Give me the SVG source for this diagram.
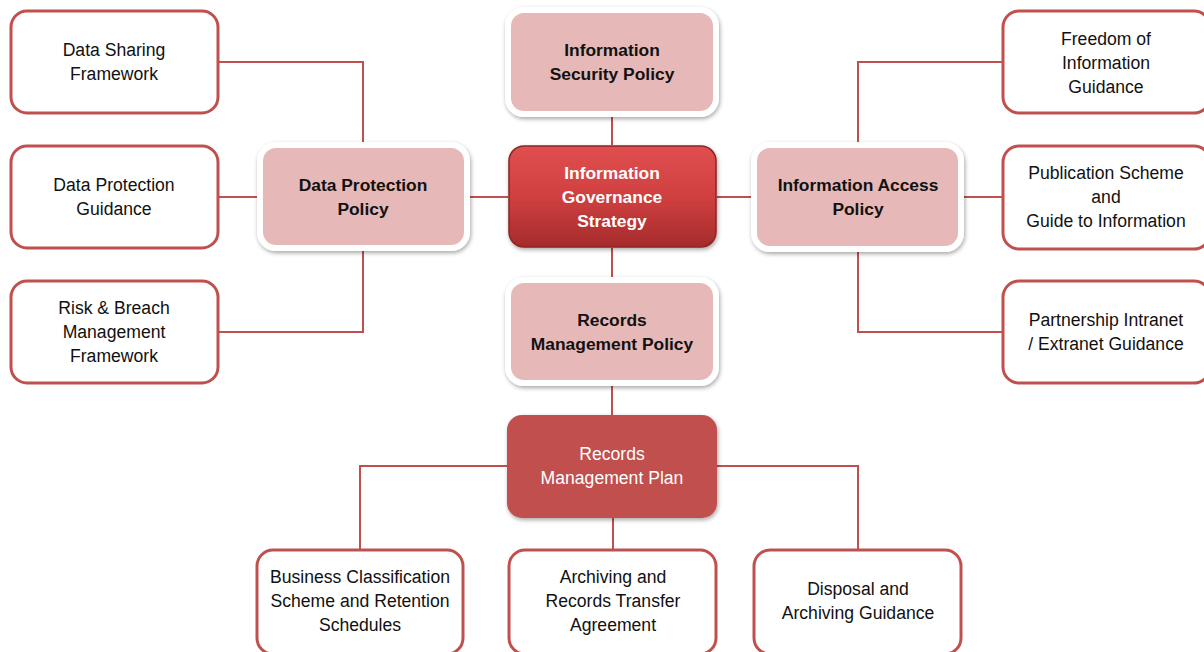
<svg xmlns="http://www.w3.org/2000/svg" width="1204" height="652" viewBox="0 0 1204 652">
  <defs>
    <linearGradient id="stratFill" x1="0" y1="0" x2="0" y2="1">
      <stop offset="0" stop-color="#e04f4f"/>
      <stop offset="0.5" stop-color="#d04040"/>
      <stop offset="1" stop-color="#a52b2b"/>
    </linearGradient>
    <filter id="shadow" x="-10%" y="-10%" width="125%" height="130%">
      <feDropShadow dx="1" dy="2" stdDeviation="2" flood-color="#000" flood-opacity="0.35"/>
    </filter>
  </defs>
  <style>
    .link { fill: none; stroke: #c0504d; stroke-width: 2; }
    .doc { fill: #ffffff; stroke: #c0504d; stroke-width: 3; }
    .policy { fill: #e6b9b8; stroke: #ffffff; stroke-width: 6; filter: url(#shadow); }
    .strategy { fill: url(#stratFill); stroke: #8f2424; stroke-width: 1.5; filter: url(#shadow); }
    .plan { fill: #c0504d; stroke: none; filter: url(#shadow); }
    text { font-family: "Liberation Sans", Arial, sans-serif; font-size: 17.6px; text-anchor: middle; fill: #111111; }
    .bold { font-weight: bold; font-size: 17.4px; }
    .light { fill: #ffffff; }
  </style>
  <rect width="1204" height="652" fill="#ffffff"/>

  <g id="connectors">
    <path class="link" d="M219,62 H363 V142"/>
    <path class="link" d="M219,197 H257"/>
    <path class="link" d="M219,332 H363 V251"/>
    <path class="link" d="M470,197 H508"/>
    <path class="link" d="M717,197 H751"/>
    <path class="link" d="M964,197 H1002"/>
    <path class="link" d="M1002,62 H858 V142"/>
    <path class="link" d="M1002,332 H858 V252"/>
    <path class="link" d="M612,115 V145"/>
    <path class="link" d="M612,248 V280"/>
    <path class="link" d="M612,383 V415"/>
    <path class="link" d="M507,466 H360 V550"/>
    <path class="link" d="M717,466 H858 V550"/>
    <path class="link" d="M613,518 V550"/>
  </g>

  <!-- left column -->
  <g id="data-sharing">
    <rect class="doc" x="11" y="11" width="207" height="102" rx="16"/>
    <text x="114" y="56">Data Sharing</text>
    <text x="114" y="80">Framework</text>
  </g>
  <g id="data-protection-guidance">
    <rect class="doc" x="11" y="146" width="207" height="102" rx="16"/>
    <text x="114" y="191">Data Protection</text>
    <text x="114" y="215">Guidance</text>
  </g>
  <g id="risk-breach">
    <rect class="doc" x="11" y="281" width="207" height="102" rx="16"/>
    <text x="114" y="314">Risk &amp; Breach</text>
    <text x="114" y="338">Management</text>
    <text x="114" y="362">Framework</text>
  </g>

  <!-- policies -->
  <g id="data-protection-policy">
    <rect class="policy" x="260" y="145" width="207" height="103" rx="16"/>
    <text class="bold" x="363" y="191">Data Protection</text>
    <text class="bold" x="363" y="215">Policy</text>
  </g>
  <g id="information-security-policy">
    <rect class="policy" x="508" y="10" width="208" height="104" rx="16"/>
    <text class="bold" x="612" y="56">Information</text>
    <text class="bold" x="612" y="80">Security Policy</text>
  </g>
  <g id="information-access-policy">
    <rect class="policy" x="754" y="145" width="207" height="104" rx="16"/>
    <text class="bold" x="858" y="191">Information Access</text>
    <text class="bold" x="858" y="215">Policy</text>
  </g>
  <g id="records-management-policy">
    <rect class="policy" x="508" y="280" width="208" height="103" rx="16"/>
    <text class="bold" x="612" y="326">Records</text>
    <text class="bold" x="612" y="350">Management Policy</text>
  </g>

  <!-- central strategy -->
  <g id="information-governance-strategy">
    <rect class="strategy" x="509" y="146" width="207" height="101" rx="15"/>
    <text class="bold light" x="612" y="179">Information</text>
    <text class="bold light" x="612" y="203">Governance</text>
    <text class="bold light" x="612" y="227">Strategy</text>
  </g>

  <!-- right column -->
  <g id="freedom-of-information">
    <rect class="doc" x="1003" y="11" width="207" height="102" rx="16"/>
    <text x="1106" y="45">Freedom of</text>
    <text x="1106" y="69">Information</text>
    <text x="1106" y="93">Guidance</text>
  </g>
  <g id="publication-scheme">
    <rect class="doc" x="1003" y="146" width="207" height="103" rx="16"/>
    <text x="1106" y="179">Publication Scheme</text>
    <text x="1106" y="203">and</text>
    <text x="1106" y="227">Guide to Information</text>
  </g>
  <g id="partnership-intranet">
    <rect class="doc" x="1003" y="281" width="207" height="102" rx="16"/>
    <text x="1106" y="326">Partnership Intranet</text>
    <text x="1106" y="350">/ Extranet Guidance</text>
  </g>

  <!-- records management plan -->
  <g id="records-management-plan">
    <rect class="plan" x="507" y="415" width="210" height="103" rx="15"/>
    <text class="light" x="612" y="460">Records</text>
    <text class="light" x="612" y="484">Management Plan</text>
  </g>

  <!-- bottom row -->
  <g id="business-classification">
    <rect class="doc" x="257" y="550" width="206" height="104" rx="16"/>
    <text x="360" y="583">Business Classification</text>
    <text x="360" y="607">Scheme and Retention</text>
    <text x="360" y="631">Schedules</text>
  </g>
  <g id="archiving-transfer">
    <rect class="doc" x="509" y="550" width="207" height="104" rx="16"/>
    <text x="613" y="583">Archiving and</text>
    <text x="613" y="607">Records Transfer</text>
    <text x="613" y="631">Agreement</text>
  </g>
  <g id="disposal-archiving">
    <rect class="doc" x="754" y="550" width="207" height="104" rx="16"/>
    <text x="858" y="595">Disposal and</text>
    <text x="858" y="619">Archiving Guidance</text>
  </g>
</svg>
